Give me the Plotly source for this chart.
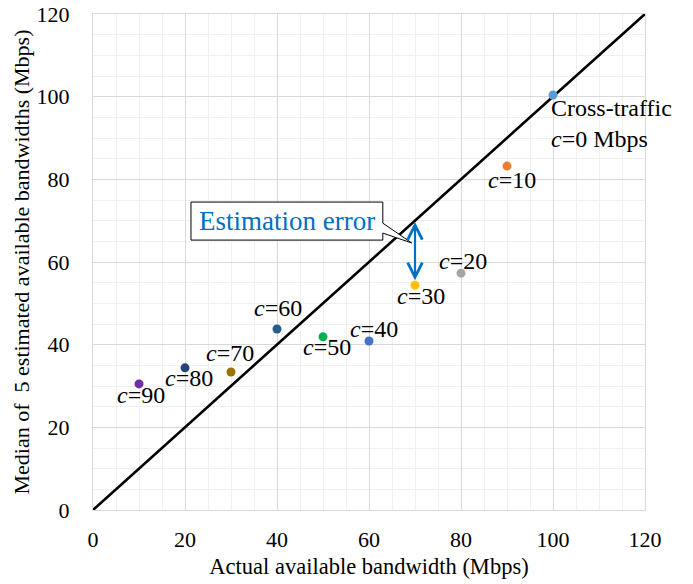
import plotly.graph_objects as go

# ---- data ----
cross_traffic = [0, 10, 20, 30, 40, 50, 60, 70, 80, 90]
actual_bw = [100, 90, 80, 70, 60, 50, 40, 30, 20, 10]
median_est = [100.4, 83.2, 57.3, 54.4, 40.9, 41.9, 43.8, 33.4, 34.4, 30.5]
point_colors = ["#5B9BD5", "#ED7D31", "#A5A5A5", "#FFC000", "#4472C4",
                "#00B050", "#255E91", "#997300", "#264478", "#7030A0"]
label_x = [99.1, 91.1, 80.4, 71.3, 61.1, 50.9, 40.2, 29.8, 20.9, 10.4]
label_y = [100.0, 79.8, 60.2, 51.8, 43.8, 39.4, 48.9, 38.0, 31.9, 27.8]
ideal_line = [0, 120]
x_ticks = [0, 20, 40, 60, 80, 100, 120]
y_ticks = [0, 20, 40, 60, 80, 100, 120]

FONT = "'Liberation Serif', 'Times New Roman', 'DejaVu Serif', serif"
BLUE = "#0070C0"

fig = go.Figure()

fig.add_trace(go.Scatter(x=ideal_line, y=ideal_line, mode="lines",
                         line=dict(color="black", width=2.6),
                         hoverinfo="skip", showlegend=False))

for i in range(len(actual_bw)):
    fig.add_trace(go.Scatter(x=[actual_bw[i]], y=[median_est[i]], mode="markers",
                             marker=dict(color=point_colors[i], size=9),
                             showlegend=False))

# point labels
for i, c in enumerate(cross_traffic):
    if c == 0:
        fig.add_annotation(x=label_x[i], y=label_y[i] + 1.0, xref="x", yref="y",
                           text="Cross-traffic<br><i>c</i>=0 Mbps",
                           showarrow=False, xanchor="left", yanchor="top",
                           align="left", font=dict(family=FONT, size=24, color="black"))
    else:
        fig.add_annotation(x=label_x[i], y=label_y[i], xref="x", yref="y",
                           text=f"<i>c</i>={c}", showarrow=False,
                           font=dict(family=FONT, size=24, color="black"))

# callout box with wedge tail
bx0, bx1, by0, by1 = 21.3, 63.0, 65.3, 74.5
w1, w2, tipx, tipy = 69.4, 67.0, 69.3, 64.6
path = (f"M {bx0},{by1} L {bx1},{by1} L {bx1},{w1} L {tipx},{tipy} "
        f"L {bx1},{w2} L {bx1},{by0} L {bx0},{by0} Z")
fig.add_shape(type="path", path=path, xref="x", yref="y",
              line=dict(color="black", width=1), fillcolor="white", layer="above")
fig.add_annotation(x=(bx0 + bx1) / 2, y=(by0 + by1) / 2, xref="x", yref="y",
                   text="Estimation error", showarrow=False,
                   font=dict(family=FONT, size=27, color=BLUE))

# double-headed error arrow
ax_x = actual_bw[3]
fig.add_annotation(x=ax_x, y=actual_bw[3] - 0.3, ax=ax_x, ay=median_est[3] + 0.8,
                   xref="x", yref="y", axref="x", ayref="y", text="",
                   showarrow=True, arrowside="end+start", arrowhead=5, startarrowhead=5,
                   arrowsize=1.3, startarrowsize=1.3,
                   arrowwidth=2.2, arrowcolor=BLUE)

axis_common = dict(
    range=[0, 120], showgrid=True, gridcolor="#D9D9D9", gridwidth=1,
    minor=dict(dtick=5, showgrid=True, gridcolor="#F0F0F0", gridwidth=1),
    zeroline=False, showline=True, linecolor="#D9D9D9", linewidth=1, mirror=True,
    tickfont=dict(family=FONT, size=22, color="black"),
    ticks="", fixedrange=True, automargin=False,
)

fig.update_xaxes(**axis_common, tickvals=x_ticks, ticklabelstandoff=10,
                 title_text="Actual available bandwidth (Mbps)", title_standoff=6,
                 title_font=dict(family=FONT, size=22.5, color="black"))
fig.update_yaxes(**axis_common, tickvals=y_ticks, ticklabelstandoff=18,
                 title_text="Median of  5 estimated available bandwidths (Mbps)",
                 title_standoff=0,
                 title_font=dict(family=FONT, size=22, color="black"))

fig.update_layout(width=693, height=584,
                  margin=dict(l=93, r=48, t=14, b=74),
                  plot_bgcolor="white", paper_bgcolor="white",
                  font=dict(family=FONT))

fig.write_html("out.html", config={"displayModeBar": False},
               post_script="document.body.style.margin='0';document.body.style.overflow='hidden';")
